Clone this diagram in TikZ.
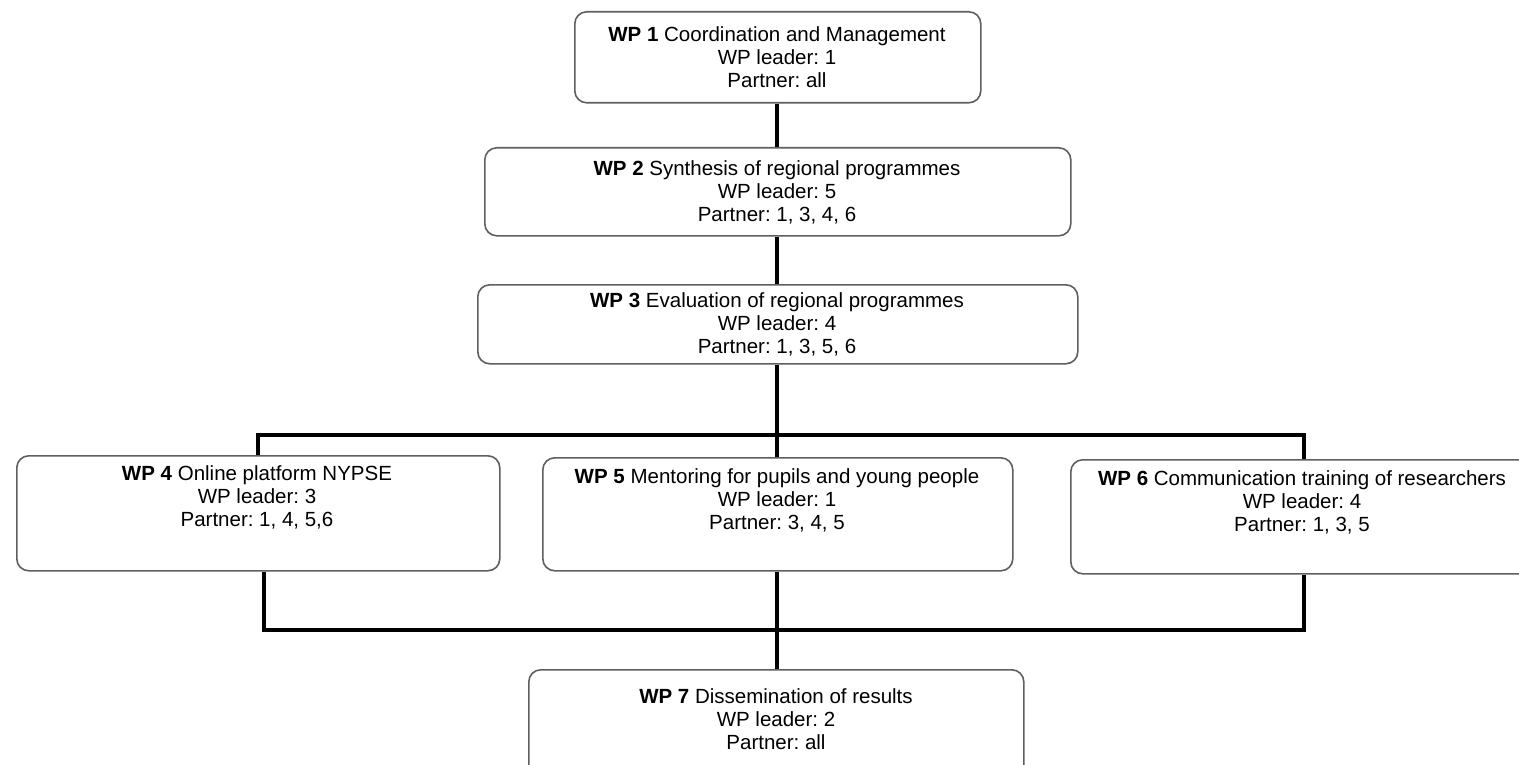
\documentclass[tikz,border=0pt]{standalone}
\usepackage{fontspec}
\setmainfont{Liberation Sans}
\frenchspacing
\definecolor{boxgray}{RGB}{95,95,95}
\begin{document}
\begin{tikzpicture}[x=1pt,y=-1pt,
  box/.style={draw=boxgray, line width=1.6pt, rounded corners=12pt, fill=white, inner sep=0pt, anchor=north west},
  txt/.style={font=\frenchspacing\fontsize{20.5}{23}\selectfont, align=center, inner sep=0pt, anchor=north, text=black},
  conn/.style={line width=4pt, black}]
\clip (0,0) rectangle (1519,765);
\fill[white] (0,0) rectangle (1519,765);
% boxes
\node[box, minimum width=406, minimum height=91] (wp1) at (574,11) {};
\node[box, minimum width=586, minimum height=88] (wp2) at (484,147) {};
\node[box, minimum width=600, minimum height=79] (wp3) at (477,284) {};
\node[box, minimum width=483, minimum height=115] (wp4) at (16,455) {};
\node[box, minimum width=470, minimum height=113] (wp5) at (542,457) {};
\node[box, minimum width=466, minimum height=114] (wp6) at (1070,459) {};
\node[box, minimum width=495, minimum height=115] (wp7) at (528,669) {};
% texts
\node[txt] (t1) at (777,26) {\textbf{WP 1} Coordination and Management\\WP leader: 1\\Partner: all};
\node[txt] (t2) at (777,160) {\textbf{WP 2} Synthesis of regional programmes\\WP leader: 5\\Partner: 1, 3, 4, 6};
\node[txt] (t3) at (777,292) {\textbf{WP 3} Evaluation of regional programmes\\WP leader: 4\\Partner: 1, 3, 5, 6};
\node[txt] (t4) at (257,465) {\textbf{WP 4} Online platform NYPSE\\WP leader: 3\\Partner: 1, 4, 5,6};
\node[txt] (t5) at (777,468) {\textbf{WP 5} Mentoring for pupils and young people\\WP leader: 1\\Partner: 3, 4, 5};
\node[txt] (t6) at (1302,470) {\textbf{WP 6} Communication training of researchers\\WP leader: 4\\Partner: 1, 3, 5};
\node[txt] (t7) at (776,688) {\textbf{WP 7} Dissemination of results\\WP leader: 2\\Partner: all};
% junctions
\coordinate (jt) at (777,435);
\coordinate (jb) at (777,630);
% connectors
\draw[conn] (jt |- wp1.south) -- (jt |- wp2.north);
\draw[conn] (jt |- wp2.south) -- (jt |- wp3.north);
\draw[conn] (jt |- wp3.south) -- (jt);
\draw[conn] (wp4.north) |- (jt) -| (wp6.north);
\draw[conn] (jt) -- (jt |- wp5.north);
\draw[conn] ([xshift=5.5pt]wp4.south) |- (jb) -| (wp6.south);
\draw[conn] (jb |- wp5.south) -- (jb |- wp7.north);
\end{tikzpicture}
\end{document}
